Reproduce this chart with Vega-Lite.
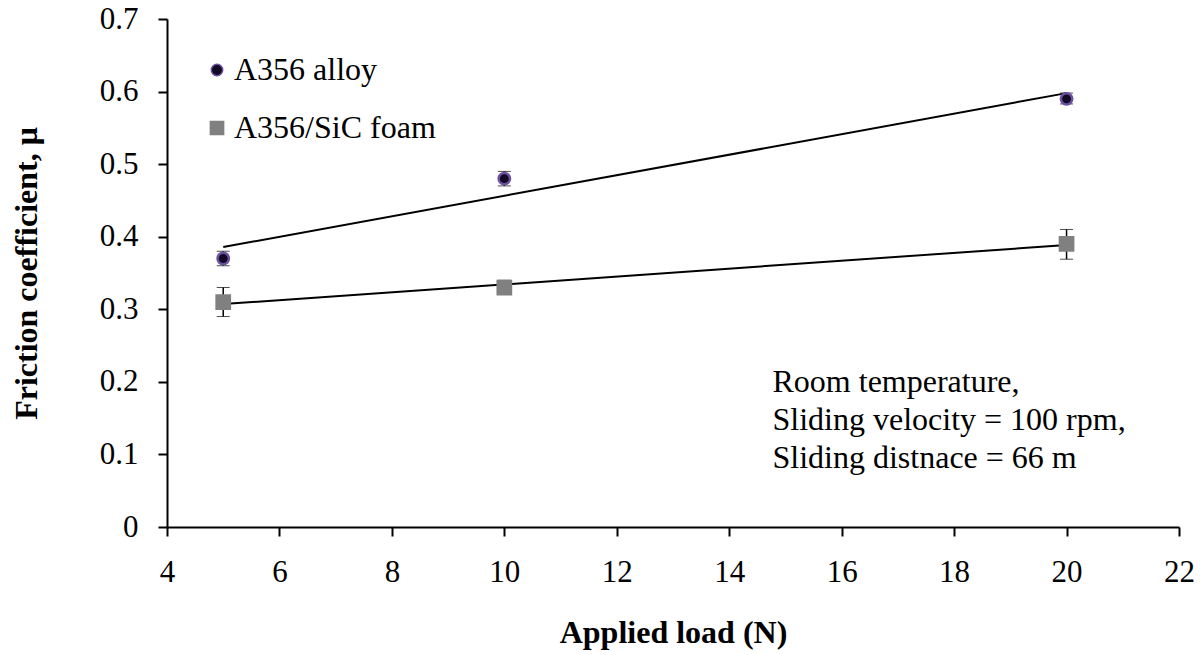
{
  "$schema": "https://vega.github.io/schema/vega-lite/v6.json",
  "width": 1012,
  "height": 508,
  "autosize": {"type": "none"},
  "padding": {"left": 167, "top": 19, "right": 24, "bottom": 128},
  "background": "white",
  "config": {
    "view": {"stroke": null},
    "font": "Times New Roman, Liberation Serif, serif",
    "text": {"font": "Times New Roman, Liberation Serif, serif"},
    "legend": {"labelFont": "Times New Roman, Liberation Serif, serif"},
    "axis": {
      "grid": false,
      "domainColor": "black",
      "domainWidth": 2,
      "tickColor": "black",
      "tickWidth": 2,
      "tickSize": 9,
      "labelFont": "Times New Roman, Liberation Serif, serif",
      "labelFontSize": 31,
      "labelColor": "black",
      "titleFont": "Times New Roman, Liberation Serif, serif",
      "titleFontSize": 32,
      "titleFontWeight": "bold",
      "titleColor": "black"
    }
  },
  "datasets": {
    "points": [
      {"series": "A356 alloy", "load": 5, "mu": 0.37, "lo": 0.36, "hi": 0.38},
      {"series": "A356 alloy", "load": 10, "mu": 0.48, "lo": 0.47, "hi": 0.49},
      {"series": "A356 alloy", "load": 20, "mu": 0.59, "lo": 0.583, "hi": 0.598},
      {"series": "A356/SiC foam", "load": 5, "mu": 0.31, "lo": 0.29, "hi": 0.33},
      {"series": "A356/SiC foam", "load": 10, "mu": 0.33, "lo": 0.322, "hi": 0.34},
      {"series": "A356/SiC foam", "load": 20, "mu": 0.39, "lo": 0.369, "hi": 0.41}
    ],
    "notes": [
      {"load": 14.77, "mu": 0.2, "text": "Room temperature,"},
      {"load": 14.77, "mu": 0.147, "text": "Sliding velocity = 100 rpm,"},
      {"load": 14.77, "mu": 0.095, "text": "Sliding distnace = 66 m"}
    ]
  },
  "layer": [
    {
      "data": {"name": "points"},
      "transform": [{"regression": "mu", "on": "load", "groupby": ["series"]}],
      "mark": {"type": "line", "color": "black", "strokeWidth": 2},
      "encoding": {
        "x": {"field": "load", "type": "quantitative", "title": "Applied load (N)"},
        "y": {"field": "mu", "type": "quantitative", "title": "Friction coefficient, μ"},
        "detail": {"field": "series"}
      }
    },
    {
      "data": {"name": "points"},
      "mark": {"type": "errorbar", "ticks": {"size": 13, "color": "black", "strokeWidth": 2}, "rule": {"color": "black", "strokeWidth": 1.5}},
      "encoding": {
        "x": {"field": "load", "type": "quantitative", "title": "Applied load (N)"},
        "y": {"field": "lo", "type": "quantitative", "title": "Friction coefficient, μ"},
        "y2": {"field": "hi"}
      }
    },
    {
      "data": {"name": "points"},
      "mark": {"type": "point", "filled": true, "opacity": 1, "strokeWidth": 2.5},
      "encoding": {
        "x": {
          "field": "load", "type": "quantitative",
          "scale": {"domain": [4, 22], "nice": false, "zero": false},
          "axis": {"values": [4, 6, 8, 10, 12, 14, 16, 18, 20, 22], "format": "d", "title": "Applied load (N)", "labelPadding": 21, "titlePadding": 30, "labelFlush": false}
        },
        "y": {
          "field": "mu", "type": "quantitative",
          "scale": {"domain": [0, 0.7], "nice": false},
          "axis": {"values": [0, 0.1, 0.2, 0.3, 0.4, 0.5, 0.6, 0.7], "title": "Friction coefficient, μ", "labelPadding": 20, "titlePadding": 56, "labelExpr": "datum.value == 0 ? '0' : format(datum.value, '.1f')", "labelFlush": false}
        },
        "color": {
          "field": "series", "type": "nominal",
          "scale": {"domain": ["A356 alloy", "A356/SiC foam"], "range": ["#120a24", "#808080"]},
          "legend": {
            "title": null, "orient": "none", "legendX": 34, "legendY": 35,
            "labelFont": "Times New Roman, Liberation Serif, serif", "labelFontSize": 32, "labelColor": "black", "labelLimit": 400,
            "rowPadding": 26, "labelOffset": 1, "symbolSize": 130
          }
        },
        "stroke": {
          "field": "series", "type": "nominal",
          "scale": {"domain": ["A356 alloy", "A356/SiC foam"], "range": ["#6b4fa0", "#808080"]},
          "legend": null
        },
        "shape": {
          "field": "series", "type": "nominal",
          "scale": {"domain": ["A356 alloy", "A356/SiC foam"], "range": ["circle", "square"]}
        },
        "size": {
          "field": "series", "type": "nominal",
          "scale": {"domain": ["A356 alloy", "A356/SiC foam"], "range": [130, 175]},
          "legend": null
        }
      }
    },
    {
      "data": {"name": "notes"},
      "mark": {"type": "text", "align": "left", "baseline": "middle", "font": "Times New Roman, Liberation Serif, serif", "fontSize": 32, "color": "black"},
      "encoding": {
        "x": {"field": "load", "type": "quantitative"},
        "y": {"field": "mu", "type": "quantitative"},
        "text": {"field": "text"}
      }
    }
  ]
}
